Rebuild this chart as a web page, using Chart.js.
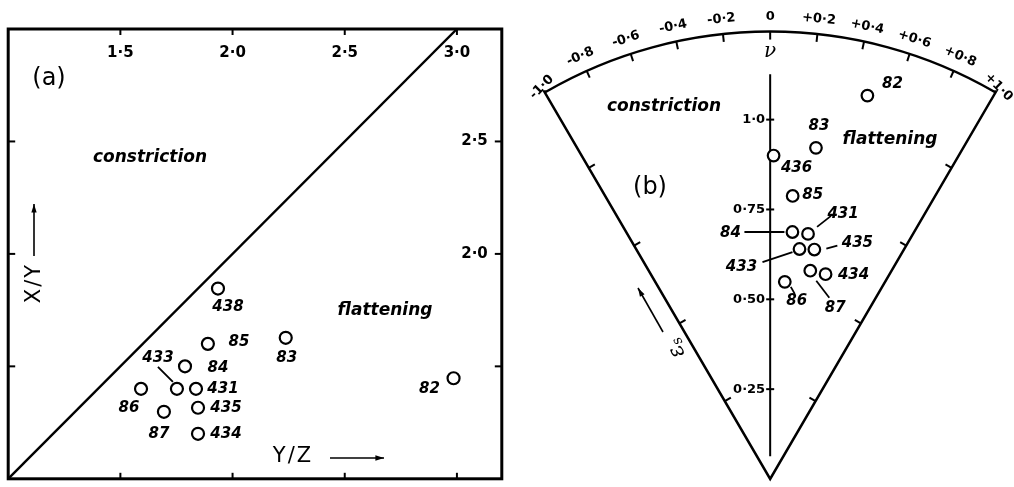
<!DOCTYPE html>
<html>
<head>
<meta charset="utf-8">
<script src="https://cdn.jsdelivr.net/npm/chart.js@4.4.1/dist/chart.umd.min.js"></script>
<style>
  html, body { margin: 0; padding: 0; background: #fff; }
  #wrap { position: relative; width: 1014px; height: 487px; overflow: hidden; }
  #flinnChart { position: absolute; left: 0; top: 0; }
  #hsuChart { position: absolute; left: 505px; top: 0; }
</style>
</head>
<body>
<div id="wrap">
  <canvas id="flinnChart" width="510" height="487"></canvas>
  <canvas id="hsuChart" width="509" height="487"></canvas>
</div>
<script>
// (a) axial ratios of the strain ellipsoid
const samplesA = ['82', '83', '84', '85', '86', '87', '431', '433', '434', '435', '438'];
const yzRatio = [2.985, 2.237, 1.788, 1.89, 1.592, 1.694, 1.837, 1.752, 1.846, 1.846, 1.935];
const xyRatio = [1.447, 1.627, 1.50, 1.60, 1.40, 1.298, 1.40, 1.40, 1.20, 1.316, 1.846];

// (b) Lode's parameter and natural octahedral unit shear
const samplesB = ['82', '83', '84', '85', '86', '87', '431', '433', '434', '435', '436'];
const nuB = [0.47, 0.26, 0.17, 0.15, 0.14, 0.36, 0.29, 0.24, 0.50, 0.36, 0.02];
const esB = [1.10, 0.93, 0.69, 0.79, 0.55, 0.59, 0.69, 0.645, 0.59, 0.65, 0.90];

// ticks
const ratioTicks = [1.5, 2.0, 2.5, 3.0];
const ratioTopLabels = ['1·5', '2·0', '2·5', '3·0'];
const ratioSideTicks = [1.5, 2.0, 2.5];
const ratioSideLabels = ['', '2·0', '2·5'];
const nuTicks = [-1.0, -0.8, -0.6, -0.4, -0.2, 0, 0.2, 0.4, 0.6, 0.8, 1.0];
const nuTickLabels = ['-1·0', '-0·8', '-0·6', '-0·4', '-0·2', '0', '+0·2', '+0·4', '+0·6', '+0·8', '+1·0'];
const esTicks = [0.25, 0.5, 0.75, 1.0];
const esTickLabels = ['0·25', '0·50', '0·75', '1·0'];
const esRim = 1.245;

// label offsets from the circle centre, in px
const labelPosA = {
  '82': [-24, 11], '83': [1, 20], '84': [33, 2], '85': [31, -2], '86': [-12, 19],
  '87': [-5, 22], '431': [27, 0], '433': [-19, -31], '434': [28, 0], '435': [28, 0], '438': [10, 19]
};
const leadersA = { '433': [-19, -22, -4, -7] };
const labelPosB = {
  '82': [25, -11], '83': [3, -22], '84': [-62, 1], '85': [20, -1], '86': [12, 19],
  '87': [25, 37], '431': [35, -20], '433': [-58, 18], '434': [28, 1], '435': [43, -6], '436': [23, 13]
};
const leadersB = {
  '84': [-48, 0, -8, 0], '431': [9, -7, 23, -18], '435': [12, -1, 23, -4],
  '433': [-37, 13, -7, 3], '87': [6, 10, 19, 27], '86': [6, 5, 10, 12]
};

const ink = '#000';
const numFont = "italic bold 15px 'DejaVu Sans'";
const wordFont = "italic bold 17px 'DejaVu Sans'";

function line(ctx, x1, y1, x2, y2) {
  ctx.beginPath();
  ctx.moveTo(x1, y1);
  ctx.lineTo(x2, y2);
  ctx.stroke();
}

function text(ctx, str, x, y, font, align, rot) {
  ctx.save();
  ctx.font = font;
  ctx.textAlign = align || 'center';
  ctx.textBaseline = 'middle';
  ctx.translate(x, y);
  if (rot) ctx.rotate(rot);
  ctx.fillText(str, 0, 0);
  ctx.restore();
}

function arrow(ctx, x1, y1, x2, y2) {
  line(ctx, x1, y1, x2, y2);
  const a = Math.atan2(y2 - y1, x2 - x1);
  ctx.beginPath();
  ctx.moveTo(x2, y2);
  ctx.lineTo(x2 - 9 * Math.cos(a - 0.3), y2 - 9 * Math.sin(a - 0.3));
  ctx.lineTo(x2 - 9 * Math.cos(a + 0.3), y2 - 9 * Math.sin(a + 0.3));
  ctx.closePath();
  ctx.fill();
}

function sampleLabels(chart, ids, pos, leaders, phase) {
  const ctx = chart.ctx;
  const meta = chart.getDatasetMeta(1);
  ctx.save();
  ctx.strokeStyle = ink;
  ctx.fillStyle = ink;
  ctx.lineWidth = 1.8;
  meta.data.forEach((pt, i) => {
    const id = ids[i];
    if (phase === 'leaders' && leaders[id]) {
      const l = leaders[id];
      line(ctx, pt.x + l[0], pt.y + l[1], pt.x + l[2], pt.y + l[3]);
    }
    if (phase === 'text') {
      text(ctx, id, pt.x + pos[id][0], pt.y + pos[id][1], numFont);
    }
  });
  ctx.restore();
}

// ---- (a) X/Y against Y/Z ----
const flinnDecor = {
  id: 'flinnDecor',
  beforeDatasetsDraw(chart) {
    const { ctx, chartArea: area, scales: { x, y } } = chart;
    ctx.save();
    ctx.strokeStyle = ink;
    ctx.fillStyle = ink;
    ctx.lineWidth = 3;
    ctx.strokeRect(area.left, area.top, area.right - area.left, area.bottom - area.top);
    ctx.lineWidth = 2;
    ratioTicks.forEach((v, i) => {
      const px = x.getPixelForValue(v);
      line(ctx, px, area.top, px, area.top + 6);
      line(ctx, px, area.bottom, px, area.bottom - 6);
      text(ctx, ratioTopLabels[i], px, area.top + 24, "bold 15px 'DejaVu Sans'");
    });
    ratioSideTicks.forEach((v, i) => {
      const py = y.getPixelForValue(v);
      line(ctx, area.left, py, area.left + 7, py);
      line(ctx, area.right, py, area.right - 7, py);
      if (ratioSideLabels[i]) text(ctx, ratioSideLabels[i], area.right - 14, py, "bold 15px 'DejaVu Sans'", 'right');
    });
    text(ctx, '(a)', 49, 79, "24px 'DejaVu Sans'");
    text(ctx, 'constriction', 150, 158, wordFont);
    text(ctx, 'flattening', 385, 311, wordFont);
    ctx.lineWidth = 1.6;
    ctx.save();
    ctx.letterSpacing = '2px';
    text(ctx, 'X/Y', 35, 283, "21px 'DejaVu Sans'", 'center', -Math.PI / 2);
    text(ctx, 'Y/Z', 293, 457, "21px 'DejaVu Sans'");
    ctx.restore();
    arrow(ctx, 34, 256, 34, 204);
    arrow(ctx, 330, 458, 384, 458);
    ctx.restore();
    sampleLabels(chart, samplesA, labelPosA, leadersA, 'leaders');
  },
  afterDatasetsDraw(chart) {
    sampleLabels(chart, samplesA, labelPosA, leadersA, 'text');
  }
};

new Chart(document.getElementById('flinnChart'), {
  type: 'scatter',
  data: {
    datasets: [
      {
        // k = 1 line separating the two fields
        data: [{ x: 1, y: 1 }, { x: 3, y: 3 }],
        showLine: true,
        borderColor: ink,
        borderWidth: 2.4,
        pointRadius: 0
      },
      {
        data: yzRatio.map((v, i) => ({ x: v, y: xyRatio[i] })),
        pointRadius: 6,
        pointBorderWidth: 2.2,
        pointBorderColor: ink,
        pointBackgroundColor: '#fff'
      }
    ]
  },
  options: {
    responsive: false,
    animation: false,
    events: [],
    layout: { padding: { left: 8, right: 8, top: 29, bottom: 2 } },
    plugins: { legend: { display: false }, tooltip: { enabled: false } },
    scales: {
      x: { type: 'linear', min: 1.0, max: 3.2, display: false },
      y: { type: 'linear', min: 1.0, max: 3.0, display: false }
    }
  },
  plugins: [flinnDecor]
});

// ---- (b) nu / epsilon_s wedge ----
const wedgeAngle = Math.PI / 6;
function polar(nu, es) {
  const t = nu * wedgeAngle;
  return { x: es * Math.sin(t), y: es * Math.cos(t) };
}

const hsuDecor = {
  id: 'hsuDecor',
  beforeDatasetsDraw(chart) {
    const { ctx, scales: { x, y } } = chart;
    const px = (nu, es) => {
      const p = polar(nu, es);
      return { x: x.getPixelForValue(p.x), y: y.getPixelForValue(p.y) };
    };
    const apex = px(0, 0);
    const unit = apex.y - y.getPixelForValue(1);
    const rim = unit * esRim;
    ctx.save();
    ctx.strokeStyle = ink;
    ctx.fillStyle = ink;
    ctx.lineWidth = 2.5;
    ctx.lineJoin = 'miter';
    const left = px(-1, esRim);
    ctx.beginPath();
    ctx.moveTo(left.x, left.y);
    ctx.lineTo(apex.x, apex.y);
    const right = px(1, esRim);
    ctx.lineTo(right.x, right.y);
    ctx.arc(apex.x, apex.y, rim, -Math.PI / 2 + wedgeAngle, -Math.PI / 2 - wedgeAngle, true);
    ctx.closePath();
    ctx.stroke();

    // ticks and labels round the rim
    ctx.lineWidth = 2;
    nuTicks.forEach((nu, i) => {
      const a = px(nu, esRim);
      const b = px(nu, esRim - 8 / unit);
      const end = Math.abs(nu) === 1;
      if (!end) line(ctx, a.x, a.y, b.x, b.y);
      const c = px(nu, esRim + (end ? 5 : 15) / unit);
      const rot = end ? nu * Math.PI / 4 : nu * wedgeAngle;
      text(ctx, nuTickLabels[i], c.x, c.y, "bold 13px 'DejaVu Sans'", 'center', rot);
    });

    // ticks along both edges
    esTicks.forEach(es => {
      [-1, 1].forEach(side => {
        const t = side * wedgeAngle;
        const p = px(side, es);
        const nx = -side * Math.cos(t), ny = -side * Math.sin(t);
        line(ctx, p.x, p.y, p.x + 7 * nx, p.y + 7 * ny);
      });
    });

    // central nu = 0 axis
    const top = px(0, 1.126), bot = px(0, 0.063);
    line(ctx, top.x, top.y, bot.x, bot.y);
    esTicks.forEach((es, i) => {
      const p = px(0, es);
      line(ctx, p.x - 4, p.y, p.x + 4, p.y);
      text(ctx, esTickLabels[i], p.x - 5, p.y, "bold 13px 'DejaVu Sans'", 'right');
    });
    const nuPos = px(0, 1.19);
    text(ctx, 'ν', nuPos.x, nuPos.y, "italic 20px 'DejaVu Serif'");

    text(ctx, '(b)', 145, 188, "24px 'DejaVu Sans'");
    text(ctx, 'constriction', 159, 107, wordFont);
    text(ctx, 'flattening', 385, 140, wordFont);

    // epsilon_s label with arrow along the left edge
    ctx.lineWidth = 1.6;
    arrow(ctx, 158, 332, 133, 288);
    ctx.save();
    ctx.translate(170, 348);
    ctx.rotate(-2 * Math.PI / 3);
    ctx.font = "italic 22px 'DejaVu Serif'";
    ctx.textBaseline = 'middle';
    ctx.textAlign = 'left';
    ctx.fillText('ε', -10, 0);
    ctx.font = "italic 14px 'DejaVu Serif'";
    ctx.fillText('s', 1, 6);
    ctx.restore();
    ctx.restore();
    sampleLabels(chart, samplesB, labelPosB, leadersB, 'leaders');
  },
  afterDatasetsDraw(chart) {
    sampleLabels(chart, samplesB, labelPosB, leadersB, 'text');
  }
};

new Chart(document.getElementById('hsuChart'), {
  type: 'scatter',
  data: {
    datasets: [
      { data: [], pointRadius: 0 },
      {
        data: nuB.map((nu, i) => polar(nu, esB[i])),
        pointRadius: 5.8,
        pointBorderWidth: 2.2,
        pointBorderColor: ink,
        pointBackgroundColor: '#fff'
      }
    ]
  },
  options: {
    responsive: false,
    animation: false,
    events: [],
    layout: { padding: { left: 11.2, right: 6.4, top: 11.8, bottom: 2 } },
    plugins: { legend: { display: false }, tooltip: { enabled: false } },
    scales: {
      x: { type: 'linear', min: -0.7, max: 0.65, display: false },
      y: { type: 'linear', min: 0, max: 1.3, display: false }
    }
  },
  plugins: [hsuDecor]
});
</script>
</body>
</html>
